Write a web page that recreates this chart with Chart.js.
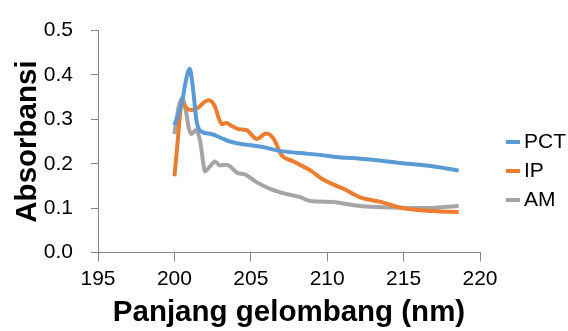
<!DOCTYPE html>
<html><head><meta charset="utf-8">
<script src="https://cdn.jsdelivr.net/npm/chart.js@4.4.1/dist/chart.umd.min.js"></script>
<style>html,body{margin:0;padding:0;background:#fff;overflow:hidden}</style>
</head><body>
<canvas id="c" width="568" height="331"></canvas>
<script>
// ---- data ----
const seriesNames = ['PCT', 'IP', 'AM'];
const pctNm  = [200.0, 200.25, 200.5, 200.8, 201.0, 201.2, 201.45, 201.7, 202.4, 203.2, 203.75, 204.5, 205.6, 206.9, 208.2, 209.5, 210.4, 212.6, 214.8, 216.5, 218.6];
const pctAbs = [0.287, 0.31, 0.34, 0.395, 0.414, 0.375, 0.296, 0.274, 0.267, 0.256, 0.249, 0.244, 0.239, 0.229, 0.224, 0.22, 0.216, 0.21, 0.2015, 0.196, 0.185];
const ipNm   = [200.0, 200.55, 200.8, 201.1, 201.55, 202.0, 202.25, 202.65, 202.9, 203.1, 203.4, 203.75, 204.2, 204.7, 205.4, 206.0, 206.5, 207.0, 207.8, 208.9, 209.7, 211.1, 212.1, 213.5, 214.8, 215.9, 217.2, 218.6];
const ipAbs  = [0.172, 0.336, 0.325, 0.321, 0.326, 0.34, 0.343, 0.329, 0.303, 0.289, 0.292, 0.285, 0.278, 0.276, 0.256, 0.268, 0.256, 0.22, 0.205, 0.185, 0.165, 0.143, 0.125, 0.114, 0.101, 0.096, 0.093, 0.091];
const amNm   = [200.0, 200.26, 200.52, 200.74, 200.96, 201.13, 201.39, 201.68, 201.89, 202.0, 202.33, 202.66, 202.98, 203.42, 203.75, 204.08, 204.6, 205.4, 206.3, 207.3, 208.2, 208.9, 210.4, 211.5, 212.6, 214.8, 216.5, 218.6];
const amAbs  = [0.267, 0.325, 0.348, 0.321, 0.278, 0.267, 0.276, 0.252, 0.2015, 0.183, 0.194, 0.205, 0.196, 0.198, 0.191, 0.18, 0.176, 0.158, 0.143, 0.132, 0.125, 0.116, 0.114, 0.108, 0.1035, 0.101, 0.1, 0.105];
const xTitle = 'Panjang gelombang (nm)';
const yTitle = 'Absorbansi';

// ---- styling ----
const FONT = '"Liberation Sans", Arial, sans-serif';
const colors = ['#5B9BD5', '#ED7D31', '#A5A5A5'];
const AXIS = '#868686';
const LEGEND_BOX_W = 88;
const LEGEND_LEFT = 504.5;
const LEGEND_TOP = 123.5;

const pts = (xs, ys) => xs.map((x, i) => ({x: x, y: ys[i]}));
const series = [pts(pctNm, pctAbs), pts(ipNm, ipAbs), pts(amNm, amAbs)];

const legendPlacement = {
  id: 'legendPlacement',
  beforeLayout(chart) {
    const lg = chart.legend;
    if (lg && !lg.__patched) {
      const fit = lg.fit;
      lg.fit = function () { fit.call(this); this.width = LEGEND_BOX_W; };
      lg.__patched = true;
    }
  },
  afterLayout(chart) {
    const lg = chart.legend;
    if (!lg) return;
    const dx = LEGEND_LEFT - lg.left, dy = LEGEND_TOP - lg.top;
    lg.left += dx; lg.right += dx; lg.top += dy; lg.bottom += dy;
  }
};

new Chart(document.getElementById('c'), {
  type: 'line',
  data: {
    datasets: seriesNames.map((name, i) => ({
      label: name,
      data: series[i],
      borderColor: colors[i],
      backgroundColor: colors[i],
      borderWidth: 4,
      pointRadius: 0,
      cubicInterpolationMode: 'monotone',
      fill: false
    }))
  },
  options: {
    responsive: false,
    animation: false,
    devicePixelRatio: 1,
    layout: {padding: {top: 23, left: 0, right: 0, bottom: 0}},
    plugins: {
      tooltip: {enabled: false},
      legend: {
        position: 'right',
        align: 'start',
        labels: {
          usePointStyle: true,
          pointStyle: 'line',
          boxWidth: 1,
          boxHeight: 10,
          padding: 8,
          color: '#000',
          font: {family: FONT, size: 21}
        }
      }
    },
    scales: {
      x: {
        type: 'linear',
        min: 195, max: 220,
        afterFit(s) { s.height = 78.5; },
        ticks: {stepSize: 5, color: '#000', padding: 5, font: {family: FONT, size: 21}},
        grid: {drawOnChartArea: false, color: AXIS, tickColor: AXIS, tickLength: 9, lineWidth: 1},
        border: {color: AXIS, width: 1},
        title: {display: true, text: xTitle, color: '#000', padding: {top: 0, bottom: 0},
                font: {family: FONT, size: 29.5, weight: 'bold'}}
      },
      y: {
        min: 0, max: 0.5,
        afterFit(s) { s.width = 98; },
        ticks: {stepSize: 0.1, color: '#000', padding: 18, font: {family: FONT, size: 21},
                callback: v => Number(v).toFixed(1)},
        grid: {drawOnChartArea: false, color: AXIS, tickColor: AXIS, tickLength: 7, lineWidth: 1},
        border: {color: AXIS, width: 1},
        title: {display: true, text: yTitle, color: '#000', padding: {top: 10, bottom: 0},
                font: {family: FONT, size: 29.5, weight: 'bold'}}
      }
    }
  },
  plugins: [legendPlacement]
});
</script>
</body></html>
